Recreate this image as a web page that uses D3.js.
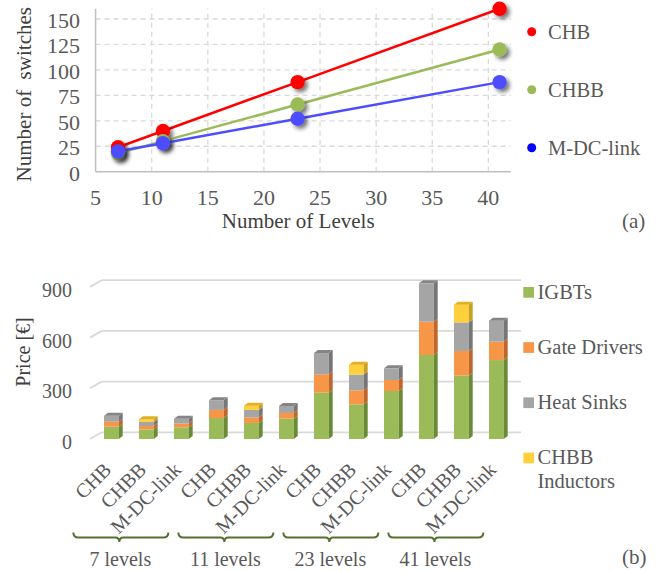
<!DOCTYPE html>
<html><head><meta charset="utf-8">
<script src="https://cdn.jsdelivr.net/npm/d3@7"></script>
<style>
html,body{margin:0;padding:0;background:#fff;}
svg{display:block;}
</style></head>
<body>
<svg id="chart" width="672" height="572" font-family="'Liberation Serif', 'DejaVu Serif', 'Times New Roman', serif"></svg>
<script>
// ---------- DATA (a) ----------
const levels = [7, 11, 23, 41];
const seriesNames = ["CHB", "CHBB", "M-DC-link"];
const chbSwitches = [24, 40, 88, 160];
const chbbSwitches = [18, 30, 66, 120];
const mdcSwitches = [20, 28, 52, 88];
const xTicksA = [5, 10, 15, 20, 25, 30, 35, 40];
const yTicksA = [0, 25, 50, 75, 100, 125, 150];

// ---------- DATA (b) ----------
const barTopologies = ["CHB","CHBB","M-DC-link","CHB","CHBB","M-DC-link","CHB","CHBB","M-DC-link","CHB","CHBB","M-DC-link"];
const groupLabels = ["7 levels", "11 levels", "23 levels", "41 levels"];
const componentNames = ["IGBTs", "Gate Drivers", "Heat Sinks", "CHBB\nInductors"];
const igbtCost   = [73, 57, 69, 124, 95, 120, 274, 205, 284, 497, 375, 467];
const gateCost   = [29, 20, 22, 48, 33, 34, 109, 83, 65, 197, 146, 109];
const heatCost   = [36, 24, 29, 57, 44, 41, 126, 93, 69, 227, 169, 124];
const inductCost = [0, 16, 0, 0, 25, 0, 0, 59, 0, 0, 105, 0];
const yTicksB = [0, 300, 600, 900];

const svg = d3.select("#chart");
const textCol = "#595959";

// ================= CHART (a) =================
const defs = svg.append("defs");
const f = defs.append("filter").attr("id","shadow").attr("x","-50%").attr("y","-50%").attr("width","200%").attr("height","200%");
f.append("feDropShadow").attr("dx",3).attr("dy",3).attr("stdDeviation",2).attr("flood-color","#000").attr("flood-opacity",0.55);

const xA = d3.scaleLinear().domain([5, 42]).range([95.6, 510.8]);
const yA = d3.scaleLinear().domain([0, 160]).range([171.7, 8.8]);
const gA = svg.append("g");

// gridlines
gA.selectAll(".hg").data(yTicksA.filter(d => d > 0)).join("line")
  .attr("x1", xA(5)).attr("x2", xA(42)).attr("y1", d => yA(d)).attr("y2", d => yA(d))
  .attr("stroke", "#d9d9d9").attr("stroke-width", 1.3).attr("stroke-dasharray", "5,4");
gA.selectAll(".vg").data(xTicksA.filter(d => d > 5)).join("line")
  .attr("x1", d => xA(d)).attr("x2", d => xA(d)).attr("y1", yA(0)).attr("y2", yA(160))
  .attr("stroke", "#d9d9d9").attr("stroke-width", 1.3).attr("stroke-dasharray", "5,4");
// axis lines
gA.append("line").attr("x1", xA(5)).attr("x2", xA(5)).attr("y1", yA(160)).attr("y2", yA(0)).attr("stroke", "#bfbfbf").attr("stroke-width", 1.5);
gA.append("line").attr("x1", xA(5)).attr("x2", xA(42)).attr("y1", yA(0)).attr("y2", yA(0)).attr("stroke", "#bfbfbf").attr("stroke-width", 1.5);

// tick labels
gA.selectAll(".yt").data(yTicksA).join("text")
  .attr("x", 80).attr("y", d => yA(d) + 9).attr("text-anchor", "end")
  .attr("font-size", 22).attr("fill", textCol).text(d => d);
gA.selectAll(".xt").data(xTicksA).join("text")
  .attr("x", d => xA(d)).attr("y", 205).attr("text-anchor", "middle")
  .attr("font-size", 22).attr("fill", textCol).text(d => d);
// axis titles
gA.append("text").attr("x", xA(5) + (xA(42) - xA(5)) / 2 - 5).attr("y", 228).attr("text-anchor", "middle")
  .attr("font-size", 21).attr("fill", "#404040").text("Number of Levels");
gA.append("text").attr("transform", `translate(31,${(yA(0)+yA(160))/2 + 4}) rotate(-90)`).attr("text-anchor", "middle")
  .attr("font-size", 21).attr("fill", "#404040").style("white-space", "pre").text("Number of  switches");

const seriesA = [
  {name: seriesNames[0], vals: chbSwitches, color: "#ff0000", legend: "#ff0000"},
  {name: seriesNames[1], vals: chbbSwitches, color: "#9bbb59", legend: "#9bbb59"},
  {name: seriesNames[2], vals: mdcSwitches, color: "#4d4dff", legend: "#0000ff"}
];
const line = d3.line().x(d => xA(d[0])).y(d => yA(d[1]));
seriesA.forEach(s => {
  const pts = levels.map((l, i) => [l, s.vals[i]]);
  gA.append("path").attr("d", line(pts)).attr("fill", "none").attr("stroke", s.color).attr("stroke-width", 2.5);
  gA.selectAll(null).data(pts).join("circle")
    .attr("cx", d => xA(d[0])).attr("cy", d => yA(d[1])).attr("r", 7.2)
    .attr("fill", s.color).attr("filter", "url(#shadow)");
});
// legend (a)
const legA = svg.append("g");
seriesA.forEach((s, i) => {
  const yy = 31.7 + i * 58;
  legA.append("circle").attr("cx", 531.7).attr("cy", yy).attr("r", 4.5).attr("fill", s.legend);
  legA.append("text").attr("x", 548).attr("y", yy + 7).attr("font-size", 20.5).attr("fill", textCol).text(s.name);
});
svg.append("text").attr("x", 622).attr("y", 228).attr("font-size", 21).attr("fill", textCol).text("(a)");

// ================= CHART (b) =================
const gB = svg.append("g");
const xB = d3.scaleBand().domain(d3.range(barTopologies.length)).range([93.5, 514.2]).paddingInner(0.58).paddingOuter(0.3);
const yB = d3.scaleLinear().domain([0, 900]).range([439, 286.9]);
const depthX = 4, depthY = 3;
const wallX = 11.7, wallY = 6.7;

// gridlines with left floor/wall diagonals
yTicksB.forEach(v => {
  gB.append("line").attr("x1", 90).attr("y1", yB(v)).attr("x2", 90 + wallX).attr("y2", yB(v) - wallY)
    .attr("stroke", "#d9d9d9").attr("stroke-width", 1.8);
  gB.append("line").attr("x1", 90 + wallX).attr("y1", yB(v) - wallY).attr("x2", 521).attr("y2", yB(v) - wallY)
    .attr("stroke", "#d9d9d9").attr("stroke-width", 1.8);
});
gB.selectAll(".ytb").data(yTicksB).join("text")
  .attr("x", 72).attr("y", d => yB(d) + 10).attr("text-anchor", "end")
  .attr("font-size", 20).attr("fill", textCol).text(d => d);
gB.append("text").attr("transform", `translate(30,352) rotate(-90)`).attr("text-anchor", "middle")
  .attr("font-size", 20).attr("fill", "#404040").text("Price [€]");

const comps = [
  {vals: igbtCost,   front: "#9bbb59", side: "#6b8a35", top: "#8aab4a"},
  {vals: gateCost,   front: "#f79646", side: "#c0662a", top: "#d97a33"},
  {vals: heatCost,   front: "#a5a5a5", side: "#767676", top: "#858585"},
  {vals: inductCost, front: "#ffd03c", side: "#c9a020", top: "#dfb025"}
];
barTopologies.forEach((t, i) => {
  const x = xB(i), w = xB.bandwidth();
  let base = 0;
  const segs = [];
  comps.forEach(c => {
    const v = c.vals[i];
    if (v > 0) { segs.push({c, y0: base, y1: base + v}); base += v; }
  });
  const bar = gB.append("g");
  segs.forEach((s, k) => {
    const yt = yB(s.y1), yb = yB(s.y0);
    bar.append("rect").attr("x", x).attr("y", yt).attr("width", w).attr("height", yb - yt).attr("fill", s.c.front);
    bar.append("polygon").attr("points", [[x + w, yt], [x + w + depthX, yt - depthY], [x + w + depthX, yb - depthY], [x + w, yb]].join(" "))
      .attr("fill", s.c.side);
    if (k === segs.length - 1) {
      bar.append("polygon").attr("points", [[x, yt], [x + depthX, yt - depthY], [x + w + depthX, yt - depthY], [x + w, yt]].join(" "))
        .attr("fill", s.c.top);
    }
  });
  // category label
  gB.append("text").attr("transform", `translate(${x + w / 2 + 1},${471}) rotate(-45)`)
    .attr("text-anchor", "end").attr("font-size", 20).attr("fill", textCol).text(t);
});

// braces and group labels
groupLabels.forEach((g, gi) => {
  const cx = (xB(gi * 3) + xB(gi * 3 + 2) + xB.bandwidth()) / 2;
  const left = cx - 73, right = cx + 22, mid = cx - 27, yl = 537.5;
  const p = d3.path();
  p.moveTo(left, yl - 5);
  p.quadraticCurveTo(left, yl, left + 5, yl);
  p.lineTo(mid - 4, yl);
  p.quadraticCurveTo(mid, yl, mid, yl + 4.5);
  p.quadraticCurveTo(mid, yl, mid + 4, yl);
  p.lineTo(right - 5, yl);
  p.quadraticCurveTo(right, yl, right, yl - 5);
  gB.append("path").attr("d", p.toString()).attr("fill", "none").attr("stroke", "#55702f").attr("stroke-width", 2);
  gB.append("text").attr("x", cx - 26).attr("y", 566).attr("text-anchor", "middle")
    .attr("font-size", 20).attr("fill", textCol).text(g);
});

// legend (b)
const legB = svg.append("g");
comps.forEach((c, i) => {
  const yy = 292.3 + i * 55.2;
  legB.append("rect").attr("x", 523.3).attr("y", yy - 5.3).attr("width", 10.7).attr("height", 10.7).attr("fill", c.front);
  const lines = componentNames[i].split("\n");
  lines.forEach((ln, j) => {
    legB.append("text").attr("x", 537.5).attr("y", yy + 6.5 + j * 23.3).attr("font-size", 20.5).attr("fill", textCol).text(ln);
  });
});
svg.append("text").attr("x", 622).attr("y", 564).attr("font-size", 21).attr("fill", textCol).text("(b)");
</script>
</body></html>
